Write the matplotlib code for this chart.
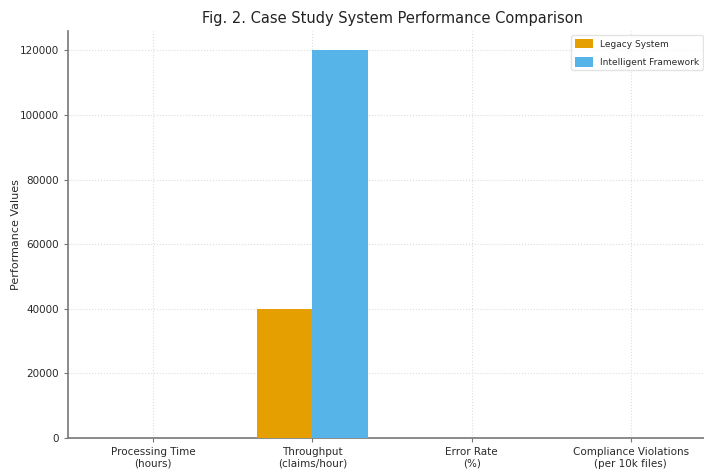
import matplotlib
matplotlib.use("Agg")
import matplotlib.pyplot as plt
import numpy as np

categories = ["Processing Time\n(hours)", "Throughput\n(claims/hour)",
              "Error Rate\n(%)", "Compliance Violations\n(per 10k files)"]
legacy = [48, 40000, 4.5, 15]
intelligent = [2, 120000, 0.8, 2]
series_names = ["Legacy System", "Intelligent Framework"]
colors = ["#E69F00", "#56B4E9"]

plt.rcParams['font.family'] = ['DejaVu Sans']

fig = plt.figure(figsize=(7.04, 4.72), dpi=100)
ax = fig.add_axes([68 / 704, 34 / 472, 648 / 704, 407 / 472])

x = np.arange(len(categories))
w = 0.35
ax.bar(x - w / 2, legacy, w, color=colors[0], label=series_names[0], zorder=3)
ax.bar(x + w / 2, intelligent, w, color=colors[1], label=series_names[1], zorder=3)

ax.set_xticks(x)
ax.set_xticklabels(categories, fontsize=7.5)
ax.tick_params(axis="y", labelsize=7.5)
ax.tick_params(colors="#777777", length=3)
for lab in ax.get_yticklabels() + ax.get_xticklabels():
    lab.set_color("#2a2a2a")

ax.set_ylabel("Performance Values", fontsize=8, color="#2a2a2a", labelpad=-1)
ax.set_title("Fig. 2. Case Study System Performance Comparison", fontsize=10.5, color="#222222")

ax.grid(True, linestyle=":", color="#dddddd", linewidth=0.8, zorder=0)
for s in ["top", "right"]:
    ax.spines[s].set_visible(False)
for s in ["left", "bottom"]:
    ax.spines[s].set_color("#777777")
    ax.spines[s].set_linewidth(1.2)

leg = ax.legend(loc="upper right", bbox_to_anchor=(703 / 704, 1 - 35 / 472),
                bbox_transform=fig.transFigure, fontsize=6.5, frameon=True,
                edgecolor="#dddddd", handleheight=1.3, labelspacing=0.9,
                borderaxespad=0)
for t in leg.get_texts():
    t.set_color("#2a2a2a")

fig.savefig("out.png", dpi=100)
